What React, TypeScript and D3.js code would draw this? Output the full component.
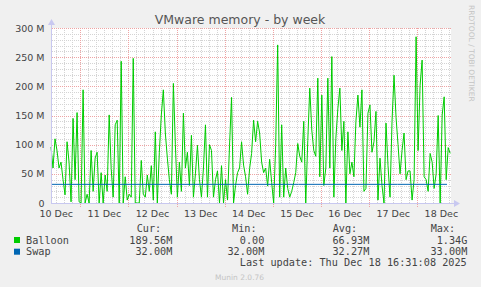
import React from "react";
import * as d3 from "d3";

const title = "VMware memory - by week";
const yTicks = [0, 50, 100, 150, 200, 250, 300];
const yTickLabels = ["0", "50 M", "100 M", "150 M", "200 M", "250 M", "300 M"];
const dayLabels = ["10 Dec", "11 Dec", "12 Dec", "13 Dec", "14 Dec", "15 Dec", "16 Dec", "17 Dec", "18 Dec"];

// Balloon memory in MB, one sample per hour from the graph start
const balloonValues = [
  96, 60, 110, 90, 60, 70, 40, 14, 105, 70, 2, 145, 40, 155, 2, 0, 194, 0, 15, 0,
  90, 20, 77, 87, 0, 52, 0, 48, 20, 151, 59, 10, 134, 142, 0, 243, 0, 45, 5, 15,
  10, 248, 0, 0, 0, 73, 15, 10, 48, 20, 64, 5, 122, 0, 87, 151, 194, 120, 77, 40,
  15, 205, 100, 10, 70, 20, 154, 60, 87, 30, 116, 10, 50, 99, 40, 10, 60, 134, 10, 100,
  90, 10, 40, 55, 0, 64, 0, 40, 5, 99, 181, 0, 30, 52, 60, 105, 65, 45, 15, 59,
  85, 142, 105, 140, 120, 70, 52, 60, 29, 75, 35, 0, 99, 271, 10, 134, 10, 60, 25, 10,
  20, 35, 52, 102, 80, 70, 140, 0, 107, 197, 125, 90, 80, 214, 45, 185, 30, 60, 214, 60,
  251, 10, 111, 162, 197, 90, 140, 0, 122, 50, 70, 45, 140, 185, 130, 194, 20, 25, 154, 168,
  87, 105, 157, 5, 77, 30, 0, 137, 64, 10, 140, 219, 147, 100, 50, 90, 120, 40, 55, 55,
  5, 40, 285, 90, 202, 245, 45, 40, 20, 85, 70, 25, 50, 150, 0, 151, 182, 40, 95, 85,
];
// Swap in MB, one sample per day
const swapValues = [32, 32, 32, 32, 32, 32, 32, 32, 32];

const legendHeaders = ["Cur:", "Min:", "Avg:", "Max:"];
const balloonStats = ["189.56M", "0.00", "66.93M", "1.34G"];
const swapStats = ["32.00M", "32.00M", "32.27M", "33.00M"];
const lastUpdate = "Last update: Thu Dec 18 16:31:08 2025";

const startTime = Date.UTC(2025, 11, 10, 9, 24);
const endTime = Date.UTC(2025, 11, 18, 16, 48);
const HOUR = 3600 * 1000;

function vDots(xs: number[], yA: number, yB: number): string {
  let s = "";
  for (const xv of xs) {
    const xi = Math.round(xv);
    for (let yy = yA; yy <= yB; yy += 2) s += `M${xi},${yy}h1v1h-1z`;
  }
  return s;
}
function hDots(ys: number[], xA: number, xB: number): string {
  let s = "";
  for (const yv of ys) {
    const yi = Math.round(yv);
    for (let xx = xA; xx <= xB; xx += 2) s += `M${xx},${yi}h1v1h-1z`;
  }
  return s;
}

export default function App() {
  const W = 481, H = 287;
  const x0 = 51, x1 = 451, yTop = 28, yBot = 203;
  const x = d3.scaleUtc().domain([startTime, endTime]).range([x0, x1]);
  const y = d3.scaleLinear().domain([0, 300]).range([yBot, yTop]);

  const minorH = d3.range(0, 301, 10).filter((v) => v % 50 !== 0);
  const allHours = d3.utcHour.every(4)!.range(new Date(startTime), new Date(endTime));
  const minorV = allHours.filter((d) => d.getUTCHours() !== 0);
  const majorV = allHours.filter((d) => d.getUTCHours() === 0);
  const noons = dayLabels.map((_, i) => Date.UTC(2025, 11, 10 + i, 12));

  const balloonLine = d3
    .line<number>()
    .x((_, i) => x(startTime + i * HOUR))
    .y((v) => y(v));
  const swapStep = (endTime - 2 * HOUR - startTime) / (swapValues.length - 1);
  const swapLine = d3
    .line<number>()
    .x((_, i) => x(startTime + i * swapStep))
    .y((v) => y(v));

  const sans = "'DejaVu Sans', sans-serif";
  const mono = "'DejaVu Sans Mono', monospace";
  const txt = "#444";
  const colX = [[136.7, 172.3], [232, 264.3], [332.7, 369.3], [430.7, 467.3]];
  const minorC = "#d4d4d4";
  const majorC = "#eea4a4";

  const minorPath =
    hDots(minorH.map((v) => y(v)), x0 + 1, x1 - 1) + vDots(minorV.map((d) => x(d)), yTop, yBot - 1);
  const majorPath =
    hDots(yTicks.filter((v) => v > 0).map((v) => y(v)), x0 + 1, x1 - 1) + vDots(majorV.map((d) => x(d)), yTop, yBot + 3);

  return (
    <svg width={W} height={H} style={{ position: "fixed", left: 0, top: 0 }} xmlns="http://www.w3.org/2000/svg">
      <rect x={0} y={0} width={W} height={H} fill="#F0F0F0" />
      <rect x={x0} y={yTop} width={x1 - x0} height={yBot - yTop} fill="#FFFFFF" />
      <path d={minorPath} fill={minorC} shapeRendering="crispEdges" />
      <path d={majorPath} fill={majorC} shapeRendering="crispEdges" />
      <path d={balloonLine(balloonValues) || ""} fill="none" stroke="#00CC00" strokeWidth={1} />
      <path d={swapLine(swapValues) || ""} fill="none" stroke="#0066B3" strokeWidth={1} />
      {/* axes */}
      <g shapeRendering="crispEdges">
        <line x1={x0 + 0.5} x2={x0 + 0.5} y1={yBot} y2={yTop - 4} stroke="#c8c8f0" />
        <line x1={x0} x2={x1 + 3} y1={yBot + 0.5} y2={yBot + 0.5} stroke="#c8c8f0" />
      </g>
      <path d={`M${x0 - 3},${yTop - 3} L${x0 + 0.5},${yTop - 9} L${x0 + 4},${yTop - 3} Z`} fill="#c8c8f0" />
      <path d={`M${x1 + 3},${yBot - 3} L${x1 + 9},${yBot + 0.5} L${x1 + 3},${yBot + 4} Z`} fill="#c8c8f0" />
      {/* title */}
      <text x={240} y={23.5} textAnchor="middle" fontFamily={sans} fontSize={12.5} fill="#555">{title}</text>
      {/* y labels */}
      {yTicks.map((v, i) => (
        <text key={"yl" + v} x={44.5} y={y(v) + 3.5} textAnchor="end" fontFamily={sans} fontSize={9.5} fill={txt}>{yTickLabels[i]}</text>
      ))}
      {/* x labels */}
      {dayLabels.map((l, i) => (
        <text key={l} x={x(noons[i])} y={216.5} textAnchor="middle" fontFamily={sans} fontSize={9.5} fill={txt}>{l}</text>
      ))}
      {/* side text */}
      <text transform="translate(469,5) rotate(90)" fontFamily={sans} fontSize={7.5} fill="#c4c4c4">RRDTOOL / TOBI OETIKER</text>
      {/* legend */}
      {legendHeaders.map((h, i) => (
        <text key={h} x={colX[i][0]} y={231.5} fontFamily={mono} fontSize={10.2} fill={txt}>{h}</text>
      ))}
      <rect x={14} y={237} width={6} height={6} fill="#00CC00" />
      <text x={26} y={243.6} fontFamily={mono} fontSize={10.2} fill={txt}>Balloon</text>
      {balloonStats.map((s, i) => (
        <text key={"b" + i} x={colX[i][1]} y={243.6} textAnchor="end" fontFamily={mono} fontSize={10.2} fill={txt}>{s}</text>
      ))}
      <rect x={14} y={248.7} width={6} height={6} fill="#0066B3" />
      <text x={26} y={255.3} fontFamily={mono} fontSize={10.2} fill={txt}>Swap</text>
      {swapStats.map((s, i) => (
        <text key={"s" + i} x={colX[i][1]} y={255.3} textAnchor="end" fontFamily={mono} fontSize={10.2} fill={txt}>{s}</text>
      ))}
      <text x={466.7} y={266.3} textAnchor="end" fontFamily={mono} fontSize={10.2} fill={txt}>{lastUpdate}</text>
      <text x={215} y={279.5} fontFamily={sans} fontSize={7.5} fill="#c4c4c4">Munin 2.0.76</text>
    </svg>
  );
}
